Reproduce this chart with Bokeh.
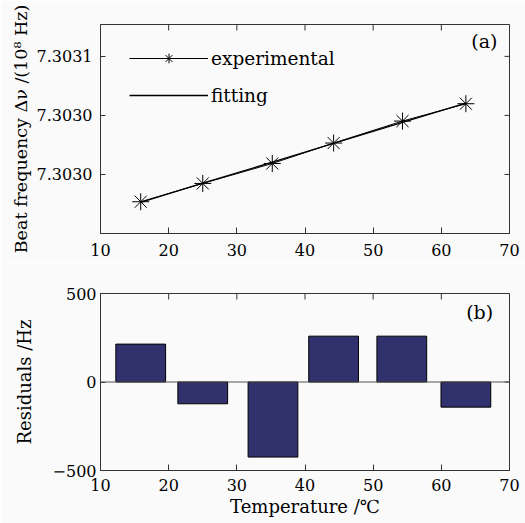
import math
from bokeh.plotting import figure
from bokeh.models import (FixedTicker, Range1d, Legend, LegendItem, Label, Span)
from bokeh.layouts import column
from bokeh.embed import file_html
from bokeh.resources import INLINE

# ---------------- data ----------------
temperature = [15.9, 25.0, 35.2, 44.2, 54.3, 63.6]
beat_experimental = [7.3029269, 7.3029424, 7.3029593, 7.3029766, 7.3029952, 7.3030099]
beat_fitting = [7.3029264, 7.3029426, 7.3029604, 7.3029763, 7.3029942, 7.3030104]

bar_temperature = [15.9, 25.0, 35.3, 44.2, 54.2, 63.6]
residuals = [214, -123, -424, 259, 259, -142]

x_ticks = [10, 20, 30, 40, 50, 60, 70]
beat_ticks = [7.30295, 7.30300, 7.30305]
beat_tick_labels = ["7.3030", "7.3030", "7.3031"]
res_ticks = [-500, 0, 500]
res_tick_labels = ["\u2212500", "0", "500"]

x_lim = (10, 70)
beat_lim = (7.30290, 7.303077)
res_lim = (-500, 500)

FONT = "DejaVu Serif"
BG = "#fafafa"
AX = "#333333"


def style_axis(ax, ticks, tick_in, standoff, overrides=None):
    ax.ticker = FixedTicker(ticks=ticks)
    ax.major_tick_in = tick_in
    ax.major_tick_out = 0
    ax.minor_tick_line_color = None
    ax.axis_line_color = AX
    ax.major_tick_line_color = AX
    ax.major_label_text_font = FONT
    ax.major_label_text_font_size = "16px"
    ax.major_label_text_color = "black"
    ax.major_label_standoff = standoff
    ax.axis_label_text_font = FONT
    ax.axis_label_text_font_size = "18px"
    ax.axis_label_text_font_style = "normal"
    ax.axis_label_text_color = "black"
    if overrides:
        ax.major_label_overrides = overrides


def box_ticks(p, xt, yt, x_end, y_end):
    # inward tick marks on the top and right borders of the box
    p.ray(x=xt, y=[y_end] * len(xt), length=6, length_units="screen",
          angle=-math.pi / 2, line_color=AX, line_width=1)
    p.ray(x=[x_end] * len(yt), y=yt, length=5, length_units="screen",
          angle=math.pi, line_color=AX, line_width=1)


# ---------------- top panel (a) ----------------
top = figure(width=525, height=262, output_backend="svg", toolbar_location=None,
             x_range=Range1d(*x_lim), y_range=Range1d(*beat_lim),
             min_border_left=100, min_border_right=16, min_border_top=24,
             min_border_bottom=29, background_fill_color=BG, border_fill_color=BG,
             outline_line_color=AX)
top.grid.visible = False

l_fit = top.line(temperature, beat_fitting, line_color="black", line_width=1.3)
l_exp = top.line(temperature, beat_experimental, line_color="black", line_width=1)
s_exp = top.scatter(temperature, beat_experimental, marker="asterisk", size=17,
                    line_color="black", line_width=1)
box_ticks(top, x_ticks, beat_ticks, x_lim[1], beat_lim[1])

style_axis(top.xaxis[0], x_ticks, 6, 10)
style_axis(top.yaxis[0], beat_ticks, 5, 8,
           overrides=dict(zip(beat_ticks, beat_tick_labels)))
top.yaxis[0].axis_label = "Beat frequency \u0394\u03bd /(10\u2078 Hz)"
top.yaxis[0].axis_label_text_font_size = "17.5px"
top.yaxis[0].axis_label_standoff = 3

legend = Legend(items=[LegendItem(label="experimental", renderers=[l_exp, s_exp]),
                       LegendItem(label="fitting", renderers=[l_fit])],
                location=(29, 126), padding=0, margin=0, spacing=13,
                glyph_width=79, glyph_height=24, label_height=24,
                label_standoff=3, label_text_font=FONT,
                label_text_font_size="18.5px", label_text_color="black",
                border_line_color=None, background_fill_alpha=0)
top.add_layout(legend)

top.add_layout(Label(x=68.24, y=7.3030632, text="(a)", text_align="right",
                     text_baseline="middle", text_font=FONT,
                     text_font_size="19px", text_color="black"))

# ---------------- bottom panel (b) ----------------
bottom = figure(width=525, height=261, output_backend="svg", toolbar_location=None,
                x_range=Range1d(*x_lim), y_range=Range1d(*res_lim),
                min_border_left=100, min_border_right=9, min_border_top=31,
                min_border_bottom=53, background_fill_color=BG, border_fill_color=BG,
                outline_line_color=AX)
bottom.grid.visible = False

bottom.vbar(x=bar_temperature, top=residuals, bottom=0, width=7.3,
            fill_color="#31316e", line_color="black", line_width=1)
bottom.add_layout(Span(location=0, dimension="width", line_color="#555555",
                       line_width=1.2))
box_ticks(bottom, x_ticks, res_ticks, x_lim[1], res_lim[1])

style_axis(bottom.xaxis[0], x_ticks, 6, 8)
bottom.xaxis[0].axis_label = "Temperature /\u2103"
bottom.xaxis[0].axis_label_standoff = 2
style_axis(bottom.yaxis[0], res_ticks, 5, 4,
           overrides=dict(zip(res_ticks, res_tick_labels)))
bottom.yaxis[0].axis_label = "Residuals /Hz"
bottom.yaxis[0].axis_label_standoff = 15

bottom.add_layout(Label(x=67.6, y=397, text="(b)", text_align="right",
                        text_baseline="middle", text_font=FONT,
                        text_font_size="19px", text_color="black"))

layout = column(top, bottom)
html = file_html(layout, INLINE)
html = html.replace("<body>",
                    '<body style="margin:0;overflow:hidden;background-color:#fafafa;">', 1)
open("out.html", "w").write(html)
